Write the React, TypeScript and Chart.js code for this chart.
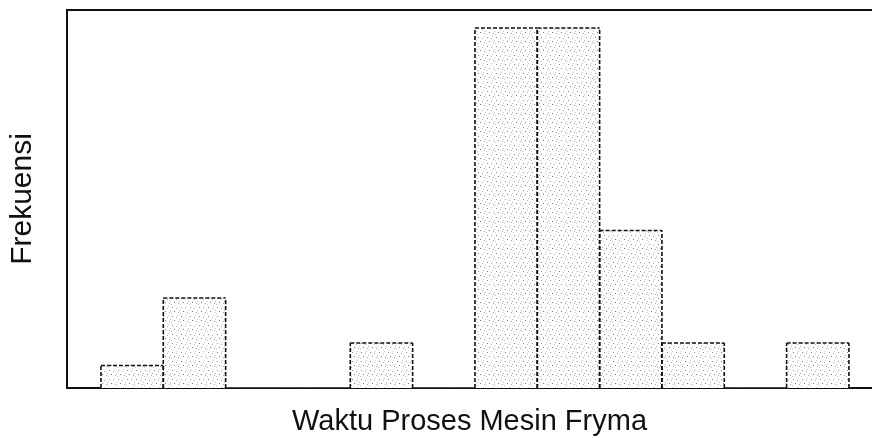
import React, { useEffect, useRef } from "react";
import { Chart, registerables } from "chart.js";

Chart.register(...registerables);

// Histogram bins (index of each class interval) and their frequencies
const binIndex = [0, 1, 2, 3, 4, 5, 6, 7, 8, 9, 10, 11];
const frequencies = [1, 4, 0, 0, 2, 0, 16, 16, 7, 2, 0, 2];
const xTitle = "Waktu Proses Mesin Fryma";
const yTitle = "Frekuensi";

function makeStipple(ctx: CanvasRenderingContext2D): CanvasPattern | string {
  const c = document.createElement("canvas");
  c.width = 9;
  c.height = 9;
  const g = c.getContext("2d");
  if (!g) return "#eeeeee";
  g.fillStyle = "#ffffff";
  g.fillRect(0, 0, 9, 9);
  const dots = [
    [1, 1, "#8a8a8a"],
    [5, 2, "#b4b4b4"],
    [3, 5, "#7a7a7a"],
    [7, 6, "#a5a5a5"],
    [0, 7, "#c4c4c4"],
    [6, 0, "#cccccc"],
    [8, 4, "#bdbdbd"],
  ] as const;
  dots.forEach(([x, y, col]) => {
    g.fillStyle = col;
    g.fillRect(x, y, 1, 1);
  });
  return ctx.createPattern(c, "repeat") || "#eeeeee";
}

const dashedOutline = {
  id: "dashedOutline",
  afterDatasetsDraw(chart: any) {
    const ctx = chart.ctx;
    const meta = chart.getDatasetMeta(0);
    ctx.save();
    ctx.strokeStyle = "#111";
    ctx.lineWidth = 1.6;
    ctx.setLineDash([4, 2]);
    meta.data.forEach((el: any, i: number) => {
      const v = frequencies[i];
      if (!v) return;
      const { x, y, base, width } = el.getProps(["x", "y", "base", "width"], true);
      const l = x - width / 2;
      const r = x + width / 2;
      const line = (x1: number, y1: number, x2: number, y2: number) => {
        ctx.beginPath();
        ctx.moveTo(x1, y1);
        ctx.lineTo(x2, y2);
        ctx.stroke();
      };
      line(l, y, r, y);
      line(l, base, l, y);
      line(r, base, r, y);
    });
    ctx.restore();
  },
};

const topFrame = {
  id: "topFrame",
  afterDraw(chart: any) {
    const { ctx, chartArea } = chart;
    ctx.save();
    ctx.strokeStyle = "#111";
    ctx.lineWidth = 2;
    ctx.beginPath();
    ctx.moveTo(chartArea.left, chartArea.top);
    ctx.lineTo(chartArea.right, chartArea.top);
    ctx.stroke();
    ctx.restore();
  },
};

export default function App() {
  const ref = useRef<HTMLCanvasElement | null>(null);

  useEffect(() => {
    const canvas = ref.current;
    if (!canvas) return;
    const ctx = canvas.getContext("2d")!;
    const pattern = makeStipple(ctx);
    const chart = new Chart(canvas, {
      type: "bar",
      data: {
        datasets: [
          {
            data: binIndex.map((b, i) => ({ x: b + 0.5, y: frequencies[i] })),
            backgroundColor: pattern as any,
            borderWidth: 0,
            barPercentage: 1,
            categoryPercentage: 1,
          },
        ],
      },
      options: {
        animation: false,
        responsive: false,
        maintainAspectRatio: false,
        layout: { padding: { top: 10, right: 0, left: 0, bottom: 0 } },
        plugins: { legend: { display: false }, tooltip: { enabled: false } },
        scales: {
          x: {
            type: "linear",
            offset: false,
            min: -0.545,
            max: 12.37,
            grid: { display: false, drawTicks: false, offset: false },
            ticks: { display: false },
            border: { display: true, color: "#111", width: 2 },
            title: {
              display: true,
              text: xTitle,
              color: "#111",
              font: { family: "'Liberation Sans', Arial, sans-serif", size: 29, lineHeight: 1 },
              padding: { top: 19.5, bottom: 1.5 },
            },
          },
          y: {
            min: 0,
            max: 16.8,
            grid: { display: false, drawTicks: false },
            ticks: { display: false },
            border: { display: true, color: "#111", width: 2 },
            title: {
              display: true,
              text: yTitle,
              color: "#111",
              font: { family: "'Liberation Sans', Arial, sans-serif", size: 30, lineHeight: 1 },
              padding: { top: 8, bottom: 29 },
            },
          },
        },
      },
      plugins: [dashedOutline, topFrame],
    });
    return () => chart.destroy();
  }, []);

  return (
    <div style={{ position: "fixed", left: 0, top: 0, width: 872, height: 438, background: "#fff" }}>
      <canvas ref={ref} width={872} height={438} style={{ width: 872, height: 438 }} />
    </div>
  );
}
